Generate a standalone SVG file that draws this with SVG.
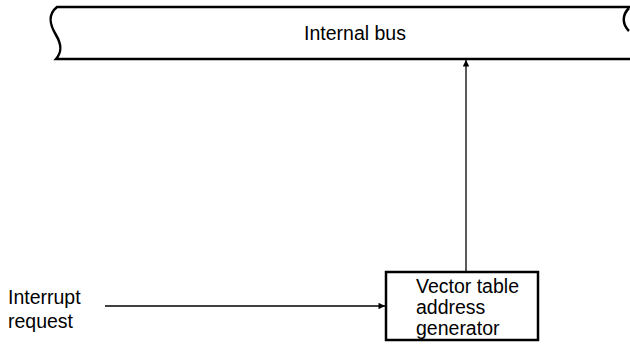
<svg xmlns="http://www.w3.org/2000/svg" width="630" height="344" viewBox="0 0 630 344">
<style>
.t{font-family:"Liberation Sans",Arial,sans-serif;font-size:19.5px;fill:#000}
.ln{stroke:#000;fill:none}
</style>
<defs>
<marker id="ah" viewBox="0 0 10 10" refX="10" refY="5" markerWidth="13" markerHeight="6.5" markerUnits="userSpaceOnUse" orient="auto"><path d="M0,0L10,5L0,10z" fill="#000"/></marker>
</defs>
<rect width="630" height="344" fill="#fff"/>
<g id="bus">
<path class="ln" stroke-width="2.5" d="M630,7H57C47,15 50,25 56,35C62,45 62,52 56,59H630"/>
<path class="ln" stroke-width="2.5" d="M629,8C622,15 622,24 629,31"/>
<text class="t" x="355" y="40" text-anchor="middle">Internal bus</text>
</g>
<g id="vtag">
<rect class="ln" stroke-width="2.5" x="386" y="272" width="152" height="68" fill="#fff"/>
<text class="t" x="416" y="293">Vector table</text>
<text class="t" x="416" y="314">address</text>
<text class="t" x="416" y="335">generator</text>
</g>
<g id="irq">
<text class="t" x="8" y="304">Interrupt</text>
<text class="t" x="8" y="328">request</text>
</g>
<g id="connectors">
<line class="ln" stroke-width="1.3" x1="105" y1="306" x2="385" y2="306" marker-end="url(#ah)"/>
<line class="ln" stroke-width="1.3" x1="466" y1="271" x2="466" y2="60" marker-end="url(#ah)"/>
</g>
</svg>
